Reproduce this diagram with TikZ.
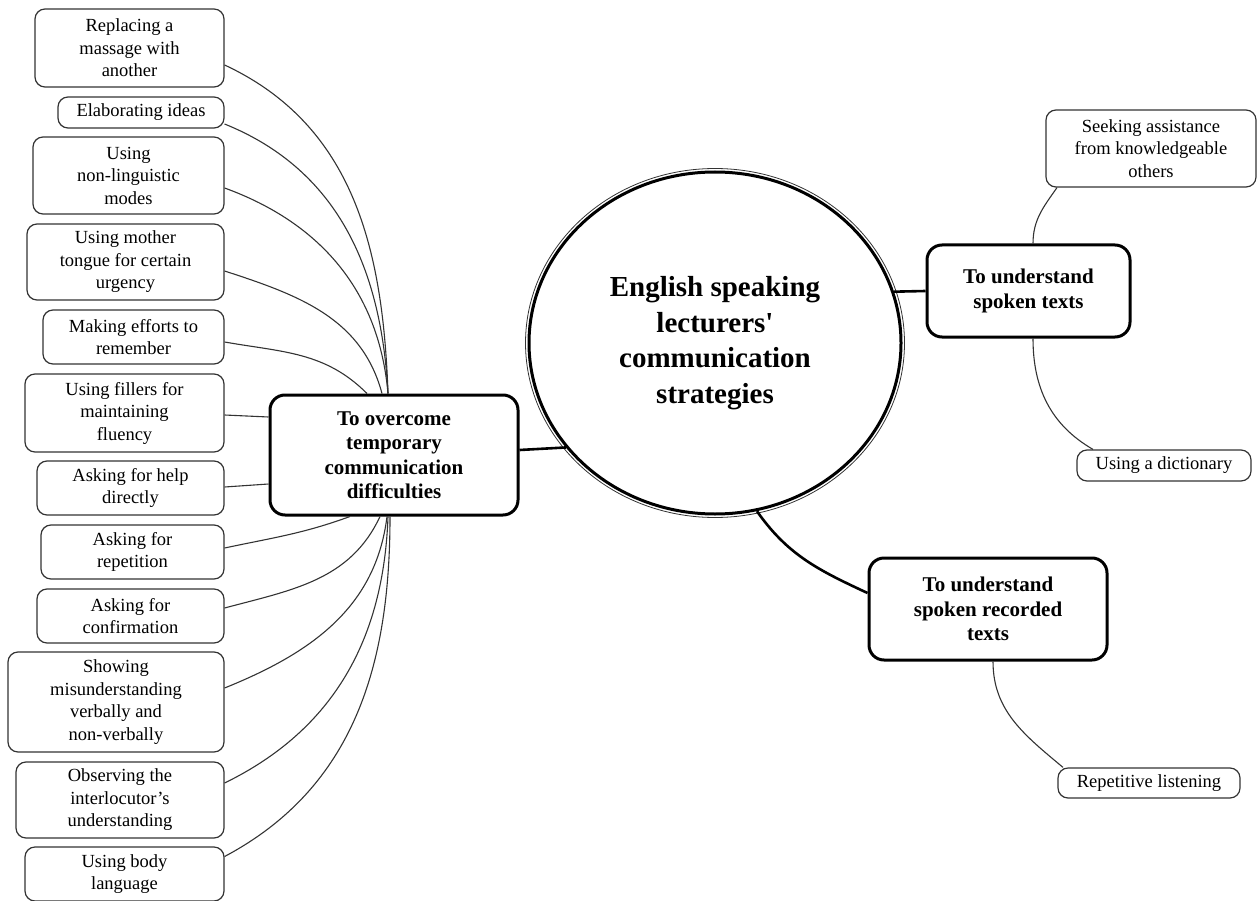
\documentclass[tikz,border=0pt]{standalone}
\usepackage{fontspec}
\setmainfont{Liberation Serif}
\usepackage{tikz}
\usepackage{xcolor}
\usetikzlibrary{shapes.geometric}
\definecolor{Trait}{HTML}{333333}
\tikzset{
LeafBox/.style={
 draw=Trait, 
 line width=1.2pt, 
 rounded corners=10pt, 
 align=center, 
 inner sep=2pt, 
 font=\fontsize{18.5}{22.5}\selectfont
 },
HubBox/.style={
 draw=black, 
 line width=3pt, 
 rounded corners=15pt, 
 align=center, 
 inner sep=2pt, 
 font=\fontsize{21}{24.5}\selectfont\bfseries
 },
CoreEllipse/.style={
 ellipse, 
 draw=black, 
 line width=3pt, 
 align=center, 
 minimum width=372pt, 
 minimum height=342pt, 
 font=\fontsize{29}{35.5}\selectfont\bfseries
 },
ThinLink/.style={
 draw=Trait, 
 line width=1.1pt
 },
ThickLink/.style={
 draw=black, 
 line width=2.6pt
 }
}
\begin{document}
\begin{tikzpicture}[x=1pt,y=-1pt]
\useasboundingbox (0,0) rectangle (1257,901);
\node[CoreEllipse] (core) at (715,343) {English speaking\\lecturers\textquotesingle\\communication\\strategies};
\draw[Trait,line width=0.8pt] (core.center) ellipse [x radius=189.5pt, y radius=174.5pt];
\node[HubBox,minimum width=248pt,minimum height=120pt] (overcome) at (394,455) {To overcome\\temporary\\communication\\difficulties};
\node[HubBox,minimum width=203pt,minimum height=92pt] (spoken) at (1028.5,291) {To understand\\spoken texts};
\node[HubBox,minimum width=238pt,minimum height=102pt] (recorded) at (988,609) {To understand\\spoken recorded\\texts};
\node[LeafBox,minimum width=189pt,minimum height=78pt] (replace) at (129.5,48) {Replacing a\\massage with\\another};
\node[LeafBox,minimum width=166pt,minimum height=31pt] (elab) at (141,112.5) {Elaborating ideas};
\node[LeafBox,minimum width=191pt,minimum height=77pt] (nonling) at (128.5,175.5) {Using\\non-linguistic\\modes};
\node[LeafBox,minimum width=197pt,minimum height=76pt] (mother) at (125.5,262) {Using mother\\tongue for certain\\urgency};
\node[LeafBox,minimum width=181pt,minimum height=54pt] (efforts) at (133.5,337) {Making efforts to\\remember};
\node[LeafBox,minimum width=199pt,minimum height=78pt] (fillers) at (124.5,413) {Using fillers for\\maintaining\\fluency};
\node[LeafBox,minimum width=187pt,minimum height=54pt] (helpdir) at (130.5,488) {Asking for help\\directly};
\node[LeafBox,minimum width=183pt,minimum height=54pt] (repeat) at (132.5,552) {Asking for\\repetition};
\node[LeafBox,minimum width=187pt,minimum height=54pt] (confirm) at (130.5,616) {Asking for\\confirmation};
\node[LeafBox,minimum width=216pt,minimum height=100pt] (misund) at (116,702) {Showing\\misunderstanding\\verbally and\\non-verbally};
\node[LeafBox,minimum width=208pt,minimum height=76pt] (observ) at (120,800) {Observing the\\interlocutor’s\\understanding};
\node[LeafBox,minimum width=199pt,minimum height=54pt] (body) at (124.5,874) {Using body\\language};
\node[LeafBox,minimum width=210pt,minimum height=77pt] (seek) at (1151,148.5) {Seeking assistance\\from knowledgeable\\others};
\node[LeafBox,minimum width=174pt,minimum height=31pt] (dict) at (1164,465.5) {Using a dictionary};
\node[LeafBox,minimum width=182pt,minimum height=30pt] (listen) at (1149,783) {Repetitive listening};
\draw[ThickLink] ([yshift=5pt]overcome.east) -- (core.215);
\draw[ThickLink] (core.16) -- (spoken.west);
\draw[ThickLink] (core.-76) to[out=-55,in=155] ([yshift=16pt]recorded.west);
\draw[ThinLink] ([yshift=-17pt]replace.east) to[out=-25,in=92] ([xshift=-6pt]overcome.north);
\draw[ThinLink] ([yshift=-11.5pt]elab.east) to[out=-22,in=93] ([xshift=-6pt]overcome.north);
\draw[ThinLink] ([yshift=-12.5pt]nonling.east) to[out=-20,in=95] ([xshift=-6pt]overcome.north);
\draw[ThinLink] ([yshift=-9pt]mother.east) to[out=-18,in=105] ([xshift=-12pt]overcome.north);
\draw[ThinLink] ([yshift=-5pt]efforts.east) to[out=-10,in=135] ([xshift=-27pt]overcome.north);
\draw[ThinLink] ([yshift=-2pt]fillers.east) -- ([yshift=38pt]overcome.west);
\draw[ThinLink] ([yshift=1pt]helpdir.east) -- ([yshift=-29pt]overcome.west);
\draw[ThinLink] ([yshift=4pt]repeat.east) to[out=12,in=-160] ([xshift=-44pt]overcome.south);
\draw[ThinLink] ([yshift=8pt]confirm.east) to[out=15,in=-115] ([xshift=-14pt]overcome.south);
\draw[ThinLink] ([yshift=14pt]misund.east) to[out=22,in=-97] ([xshift=-7pt]overcome.south);
\draw[ThinLink] ([yshift=17pt]observ.east) to[out=26,in=-92] ([xshift=-6pt]overcome.south);
\draw[ThinLink] ([yshift=17.5pt]body.east) to[out=28,in=-90] ([xshift=-4pt]overcome.south);
\draw[ThinLink] ([xshift=-94pt]seek.south) to[out=-125,in=90] ([xshift=4.5pt]spoken.north);
\draw[ThinLink] ([xshift=4.5pt]spoken.south) to[out=-90,in=150] ([xshift=-71pt]dict.north);
\draw[ThinLink] ([xshift=5pt]recorded.south) to[out=-90,in=140] ([xshift=-86pt]listen.north);
\end{tikzpicture}
\end{document}
